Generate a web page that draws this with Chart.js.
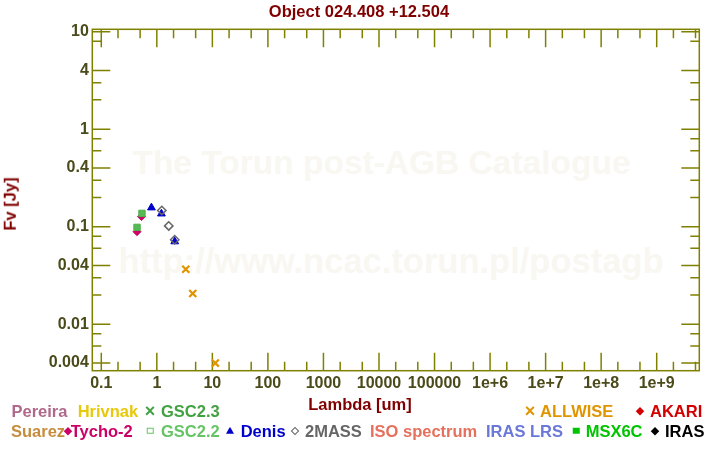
<!DOCTYPE html>
<html>
<head>
<meta charset="utf-8">
<script src="https://cdn.jsdelivr.net/npm/chart.js@4.4.1/dist/chart.umd.min.js"></script>
<style>
  html, body { margin: 0; padding: 0; background: #fff; }
  #wrap { position: relative; width: 720px; height: 450px; overflow: hidden;
          font-family: "Liberation Sans", Arial, sans-serif; font-weight: bold; }
  #wrap canvas { position: absolute; left: 0; top: 0; z-index: 1; }
  .t { position: absolute; line-height: 1; white-space: nowrap; z-index: 2; }
  .c { transform: translate(-50%, -50%); }
  .l { transform: translateY(-50%); }
  .wm { color: #f9f7f1; z-index: 0; }
  .mk { position: absolute; z-index: 2; }
</style>
</head>
<body>
<div id="wrap">
  <div class="t c wm" style="left:381.5px; top:163px; font-size:33.5px;">The Torun post-AGB Catalogue</div>
  <div class="t c wm" style="left:391px; top:260.5px; font-size:34.5px;">http://www.ncac.torun.pl/postagb</div>
  <canvas id="c" width="720" height="450"></canvas>
  <div class="t c" style="left:359px; top:11px; font-size:16.5px; color:#800000;">Object 024.408 +12.504</div>
  <div class="t c" style="left:360px; top:403.5px; font-size:16.5px; color:#800000;">Lambda [um]</div>
  <div class="t" style="left:9.5px; top:203.5px; font-size:16.5px; color:#800000; transform:translate(-50%,-50%) rotate(-90deg);">Fv [Jy]</div>
  <div id="legend"></div>
</div>
<script>
// photometry, wavelength in um, flux in Jy
const tychoLambda = [0.44, 0.53];
const tychoFlux   = [0.089, 0.127];
const gsc22Lambda = [0.44, 0.54];
const gsc22Flux   = [0.0985, 0.137];
const denisLambda = [0.80, 1.21, 2.10];
const denisFlux   = [0.157, 0.136, 0.0705];
const tmassLambda = [1.23, 1.64, 2.10];
const tmassFlux   = [0.147, 0.102, 0.0735];
const allwiseLambda = [3.32, 4.43, 11.3];
const allwiseFlux   = [0.0366, 0.0207, 0.0040];

const xMajorTicks = [0.1, 1, 10, 100, 1000, 1e4, 1e5, 1e6, 1e7, 1e8, 1e9];
const xTickLabels = ['0.1', '1', '10', '100', '1000', '10000', '100000', '1e+6', '1e+7', '1e+8', '1e+9'];
const xMinorSteps = [2, 5];
const yMajorTicks = [10, 4, 1, 0.4, 0.1, 0.04, 0.01, 0.004];
const yTickLabels = ['10', '4', '1', '0.4', '0.1', '0.04', '0.01', '0.004'];
const yMinorTicks = [8, 3, 2, 0.8, 0.6, 0.3, 0.2, 0.08, 0.06, 0.03, 0.02, 0.008, 0.006];

const xMin = 0.0689, xMax = 5.85e9;
const yMin = 0.00334, yMax = 10.58;

const legendItems = [
  // name, colour, text left, row, marker, marker centre
  ['Pereira', '#b0698b', 11.5, 1, null, 0],
  ['Hrivnak', '#e8c80a', 77.7, 1, null, 0],
  ['GSC2.3', '#42a242', 161, 1, 'x', 150],
  ['ALLWISE', '#e09500', 540, 1, 'x', 530],
  ['AKARI', '#d20000', 650, 1, 'diamond', 640.3],
  ['Suarez', '#c68d3e', 11, 2, null, 0],
  ['Tycho-2', '#cc0066', 70.7, 2, 'diamond', 68.3],
  ['GSC2.2', '#66c466', 161, 2, 'osquare', 150],
  ['Denis', '#0000cc', 240.7, 2, 'triangle', 230],
  ['2MASS', '#666666', 305, 2, 'odiamond', 294.7],
  ['ISO spectrum', '#e6705e', 370, 2, null, 0],
  ['IRAS LRS', '#6a78d8', 486, 2, null, 0],
  ['MSX6C', '#00c400', 585.7, 2, 'square', 576],
  ['IRAS', '#000000', 665, 2, 'diamond', 655]
];

const axisColor = '#808000';
const tickColor = '#4a4a1a';
const fontFamily = '"Liberation Sans", Arial, sans-serif';

const xMinorTicks = [];
xMajorTicks.forEach(d => xMinorSteps.forEach(s => xMinorTicks.push(d * s)));
const xAllTicks = xMajorTicks.concat(xMinorTicks).filter(v => v >= xMin && v <= xMax).sort((a, b) => a - b);
const yAllTicks = yMajorTicks.concat(yMinorTicks).sort((a, b) => a - b);

const same = (a, b) => Math.abs(Math.log10(a) - Math.log10(b)) < 1e-6;
const labelFor = (v, majors, labels) => {
  const i = majors.findIndex(m => same(m, v));
  return i >= 0 ? labels[i] : '';
};
const pts = (xs, ys) => xs.map((x, i) => ({ x: x, y: ys[i] }));

/* frame and inward tick marks on all four sides */
const frameTicks = {
  id: 'frameTicks',
  beforeDatasetsDraw(chart) {
    const { ctx, chartArea: a, scales } = chart;
    ctx.save();
    ctx.strokeStyle = axisColor;
    ctx.lineWidth = 1.5;
    ctx.strokeRect(a.left, a.top, a.right - a.left, a.bottom - a.top);
    ctx.beginPath();
    xAllTicks.forEach(v => {
      const px = scales.x.getPixelForValue(v);
      const len = xMajorTicks.some(m => same(m, v)) ? 18 : 9;
      ctx.moveTo(px, a.bottom); ctx.lineTo(px, a.bottom - len);
      ctx.moveTo(px, a.top); ctx.lineTo(px, a.top + len);
    });
    yAllTicks.forEach(v => {
      const py = scales.y.getPixelForValue(v);
      const len = yMajorTicks.some(m => same(m, v)) ? 18 : 9;
      ctx.moveTo(a.left, py); ctx.lineTo(a.left + len, py);
      ctx.moveTo(a.right, py); ctx.lineTo(a.right - len, py);
    });
    ctx.stroke();
    ctx.restore();
  }
};

new Chart(document.getElementById('c'), {
  type: 'scatter',
  data: {
    datasets: [
      { label: '2MASS', data: pts(tmassLambda, tmassFlux), pointStyle: 'rectRot', pointRadius: 4.2,
        backgroundColor: 'rgba(0,0,0,0)', borderColor: '#666666', borderWidth: 1.5 },
      { label: 'Denis', data: pts(denisLambda, denisFlux), pointStyle: 'triangle', pointRadius: 4.5,
        backgroundColor: '#0000cc', borderColor: '#0000cc', borderWidth: 1 },
      { label: 'GSC2.2', data: pts(gsc22Lambda, gsc22Flux), pointStyle: 'rect', pointRadius: 4.5,
        backgroundColor: '#55b955', borderColor: '#4caf4c', borderWidth: 1 },
      { label: 'Tycho-2', data: pts(tychoLambda, tychoFlux), pointStyle: 'rectRot', pointRadius: 4,
        backgroundColor: '#cc0066', borderColor: '#cc0066', borderWidth: 1 },
      { label: 'ALLWISE', data: pts(allwiseLambda, allwiseFlux), pointStyle: 'crossRot', pointRadius: 5,
        backgroundColor: '#e09500', borderColor: '#e09500', borderWidth: 2.2 }
    ]
  },
  options: {
    responsive: false,
    animation: false,
    events: [],
    layout: { padding: { left: 0, top: 29.3, right: 20.7, bottom: 0 } },
    plugins: { legend: { display: false }, tooltip: { enabled: false }, title: { display: false } },
    scales: {
      x: {
        type: 'logarithmic', position: 'bottom', min: xMin, max: xMax,
        afterFit: s => { s.height = 79.3; },
        afterBuildTicks: s => { s.ticks = xAllTicks.map(v => ({ value: v })); },
        grid: { display: false, drawTicks: false },
        border: { display: false },
        ticks: { autoSkip: false, maxRotation: 0, minRotation: 0, padding: 3, color: tickColor,
                 font: { family: fontFamily, size: 16, weight: 'bold' },
                 callback: v => labelFor(v, xMajorTicks, xTickLabels) }
      },
      y: {
        type: 'logarithmic', position: 'left', min: yMin, max: yMax,
        afterFit: s => { s.width = 92.3; },
        afterBuildTicks: s => { s.ticks = yAllTicks.map(v => ({ value: v })); },
        grid: { display: false, drawTicks: false },
        border: { display: false },
        ticks: { autoSkip: false, padding: 3.5, color: tickColor,
                 font: { family: fontFamily, size: 16, weight: 'bold' },
                 callback: v => labelFor(v, yMajorTicks, yTickLabels) }
      }
    }
  },
  plugins: [frameTicks]
});

/* legend as html text */
const legend = document.getElementById('legend');
const rowY = { 1: 410.5, 2: 430.5 };
legendItems.forEach(([name, color, left, row, marker, mx]) => {
  const y = rowY[row];
  const t = document.createElement('div');
  t.className = 't l';
  t.style.cssText = `left:${left}px; top:${y}px; font-size:16.5px; color:${color};`;
  t.textContent = name;
  legend.appendChild(t);
  if (!marker) return;
  const m = document.createElement('div');
  if (marker === 'x') {
    m.className = 't c';
    m.style.cssText = `left:${mx}px; top:${y}px; font-size:18px; color:${color};`;
    m.textContent = '\u00d7';
  } else {
    m.className = 'mk';
    let w = 6, h = 6, extra = '';
    if (marker === 'diamond') { w = h = 5.5; extra = `background:${color}; transform:translate(-50%,-50%) rotate(45deg);`; }
    if (marker === 'odiamond') { w = h = 4; extra = `border:1.3px solid ${color}; transform:translate(-50%,-50%) rotate(45deg);`; }
    if (marker === 'osquare') { w = h = 4.5; extra = `border:1.5px solid ${color}; transform:translate(-50%,-50%);`; }
    if (marker === 'square') { w = h = 6.5; extra = `background:${color}; transform:translate(-50%,-50%);`; }
    if (marker === 'triangle') { w = 8; h = 7; extra = `background:${color}; clip-path:polygon(50% 0,100% 100%,0 100%); transform:translate(-50%,-55%);`; }
    m.style.cssText = `left:${mx}px; top:${y}px; width:${w}px; height:${h}px; ${extra}`;
  }
  legend.appendChild(m);
});
</script>
</body>
</html>
